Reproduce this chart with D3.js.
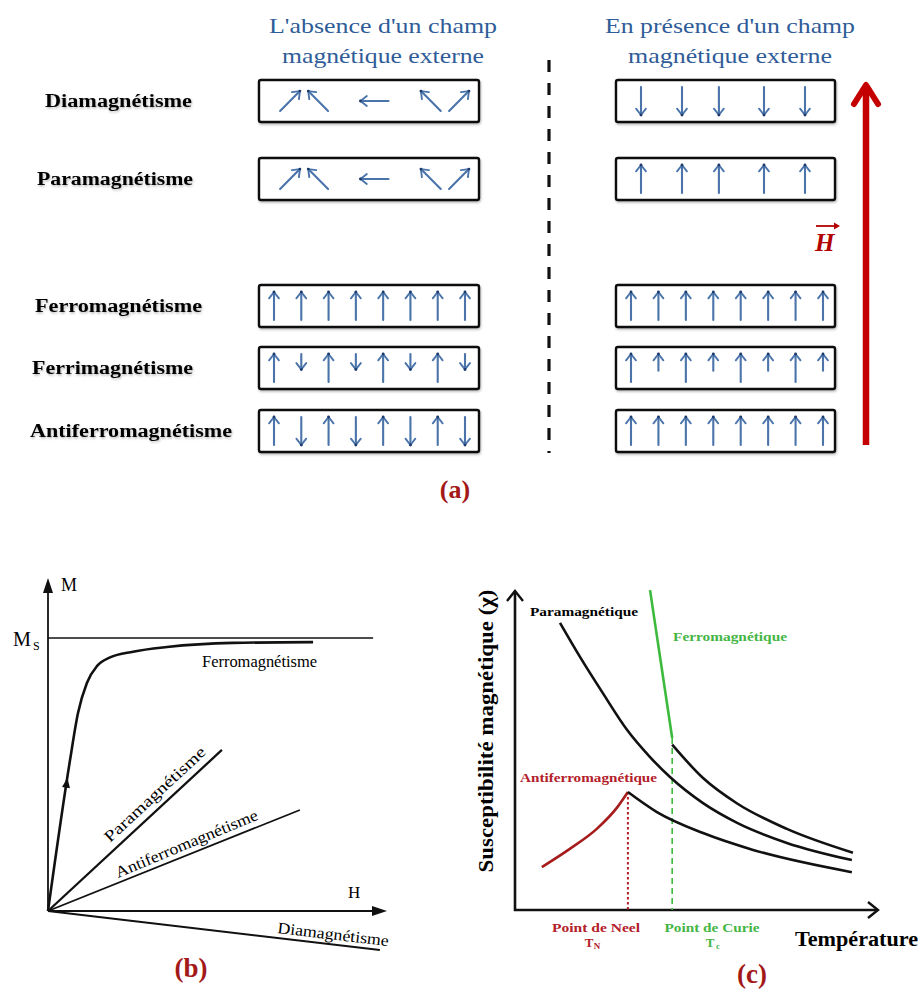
<!DOCTYPE html>
<html><head><meta charset="utf-8">
<script src="https://cdn.jsdelivr.net/npm/d3@7"></script>
<style>body{margin:0;background:#fff}svg{display:block}</style>
</head><body>
<script>
// ---------------- data ----------------
const magnetismTypes = ["Diamagnétisme", "Paramagnétisme", "Ferromagnétisme", "Ferrimagnétisme", "Antiferromagnétisme"];
const headerNoField = ["L'absence d'un champ", "magnétique externe"];
const headerField = ["En présence d'un champ", "magnétique externe"];

// spin orientation: degrees clockwise from "up"
const spinAngleNoField = [
  [45, -45, -90, -45, 45],
  [45, -45, -90, -45, 45],
  [0, 0, 0, 0, 0, 0, 0, 0],
  [0, 180, 0, 180, 0, 180, 0, 180],
  [0, 180, 0, 180, 0, 180, 0, 180]
];
const spinLengthNoField = [
  [1, 1, 1, 1, 1],
  [1, 1, 1, 1, 1],
  [1, 1, 1, 1, 1, 1, 1, 1],
  [1, 0.55, 1, 0.55, 1, 0.55, 1, 0.55],
  [1, 1, 1, 1, 1, 1, 1, 1]
];
const spinSlotNoField = [
  [0, 1, 3, 5, 6],
  [0, 1, 3, 5, 6],
  [0, 1, 2, 3, 4, 5, 6, 7],
  [0, 1, 2, 3, 4, 5, 6, 7],
  [0, 1, 2, 3, 4, 5, 6, 7]
];
const spinAngleField = [
  [180, 180, 180, 180, 180],
  [0, 0, 0, 0, 0],
  [0, 0, 0, 0, 0, 0, 0, 0],
  [0, 0, 0, 0, 0, 0, 0, 0],
  [0, 0, 0, 0, 0, 0, 0, 0]
];
const spinLengthField = [
  [1, 1, 1, 1, 1],
  [1, 1, 1, 1, 1],
  [1, 1, 1, 1, 1, 1, 1, 1],
  [1, 0.6, 1, 0.6, 1, 0.6, 1, 0.6],
  [1, 1, 1, 1, 1, 1, 1, 1]
];
const spinSlotField = [
  [0, 1, 1.9, 3, 4],
  [0, 1, 1.9, 3, 4],
  [0, 1, 2, 3, 4, 5, 6, 7],
  [0, 1, 2, 3, 4, 5, 6, 7],
  [0, 1, 2, 3, 4, 5, 6, 7]
];

// panel (b): magnetisation M versus field H (arbitrary units, M_s = 100)
const hFerro = [0, 6.5, 8.85, 11.5, 14.5, 18.3, 25.1, 35.1, 54.6, 78.2];
const mFerro = [0, 55.3, 72.5, 83.6, 89.8, 92.9, 95.0, 96.7, 98.2, 98.5];
const hPara = [0, 51.3];
const mPara = [0, 59.0];
const hAnti = [0, 74.3];
const mAnti = [0, 37.0];
const hDia = [0, 97.9];
const mDia = [0, -14.3];
const mSat = 100;
const hSatEnd = 95.9;

// panel (c): susceptibility versus temperature (arbitrary units)
const tPara = [12.4, 17.9, 24.2, 30.9, 37.2, 42.7, 51.8, 61.2, 74.9, 92.8];
const chiPara = [90.3, 79.6, 68.2, 56.6, 48.1, 41.8, 33.6, 27.4, 21.1, 15.7];
const tFerroOrdered = [37.2, 43.3];
const chiFerroOrdered = [100.6, 54.1];
const tFerroPara = [43.3, 51.8, 61.2, 74.9, 93.1];
const chiFerroPara = [52.0, 41.5, 33.5, 25.5, 18.0];
const tAntiOrdered = [7.4, 15.2, 22.6, 28.1, 31.1];
const chiAntiOrdered = [13.5, 19.3, 25.6, 32.2, 37.1];
const tAntiPara = [31.1, 39.1, 51.8, 65.6, 92.8];
const chiAntiPara = [37.1, 30.8, 24.2, 18.9, 11.9];
const tNeel = 31.1;
const tCurie = 43.3;

// ---------------- drawing ----------------
const W = 920, H = 992;
const svg = d3.select("body").append("svg").attr("width", W).attr("height", H);
const SERIF = "'Liberation Serif', 'Times New Roman', serif";
const BLUE_TXT = "#2f5c98", SPIN = "#4a74aa", RED = "#a31818", ARROW_RED = "#c40000";
const GREEN = "#3dba3d";

const defs = svg.append("defs");
const sh = defs.append("filter").attr("id", "soft").attr("x", "-10%").attr("y", "-30%").attr("width", "130%").attr("height", "180%");
sh.append("feDropShadow").attr("dx", 0.8).attr("dy", 1.5).attr("stdDeviation", 1.2)
  .attr("flood-color", "#000").attr("flood-opacity", 0.28);

function text(g, x, y, str, opts) {
  const t = g.append("text").attr("x", x).attr("y", y).text(str)
    .attr("font-family", opts.family || SERIF)
    .attr("font-size", opts.size)
    .attr("font-weight", opts.weight || "normal")
    .attr("font-style", opts.style || "normal")
    .attr("fill", opts.fill || "#000")
    .attr("text-anchor", opts.anchor || "start");
  if (opts.len) t.attr("textLength", opts.len).attr("lengthAdjust", "spacingAndGlyphs");
  if (opts.rotate !== undefined) t.attr("transform", `rotate(${opts.rotate},${x},${y})`);
  if (opts.filter) t.attr("filter", opts.filter);
  return t;
}

// ===== panel (a) =====
const pa = svg.append("g");

// column headings
[[383, headerNoField, [228, 202]], [730, headerField, [250, 204]]].forEach(([cx, lines, lens]) => {
  lines.forEach((l, i) => text(pa, cx, 33 + i * 30, l, { size: 22, fill: BLUE_TXT, anchor: "middle", len: lens[i] }));
});

// row layout
const rowY = d3.scaleOrdinal().domain(magnetismTypes).range([101, 179, 306, 368, 431]);
const labelLen = [147, 156, 167, 161, 202];
const labelX = [45, 37, 35, 32, 30];
magnetismTypes.forEach((name, i) => {
  text(pa, labelX[i], rowY(name) + 6, name, { size: 18, weight: "bold", len: labelLen[i], filter: "url(#soft)" });
});

const BOX_H = 42, FULL = 28;
function drawSpin(g, cx, cy, angle, rel) {
  const L = FULL * rel;
  const a = angle * Math.PI / 180;
  const ux = Math.sin(a), uy = -Math.cos(a);
  // short vertical spins share the top edge with the long ones
  const shift = (FULL - L) / 2;
  const cyy = cy - shift * (Math.abs(uy) > 0.9 ? 1 : 0);
  const x1 = cx - ux * L / 2, y1 = cyy - uy * L / 2;
  const x2 = cx + ux * L / 2, y2 = cyy + uy * L / 2;
  g.append("line").attr("x1", x1).attr("y1", y1).attr("x2", x2).attr("y2", y2)
    .attr("stroke", SPIN).attr("stroke-width", 2.1).attr("stroke-linecap", "round");
  const hl = 8, ha = 38 * Math.PI / 180;
  [-1, 1].forEach(s => {
    const bx = -ux, by = -uy;
    const rx = bx * Math.cos(s * ha) - by * Math.sin(s * ha);
    const ry = bx * Math.sin(s * ha) + by * Math.cos(s * ha);
    g.append("line").attr("x1", x2).attr("y1", y2).attr("x2", x2 + rx * hl).attr("y2", y2 + ry * hl)
      .attr("stroke", SPIN).attr("stroke-width", 1.9).attr("stroke-linecap", "round");
  });
  g.append("circle").attr("cx", x2).attr("cy", y2).attr("r", 1.4).attr("fill", "#1d3a6b");
}

function drawBoxes(x0, x1, angles, lengths, slots, insets) {
  magnetismTypes.forEach((name, i) => {
    const cy = rowY(name);
    const g = pa.append("g");
    g.append("rect").attr("x", x0).attr("y", cy - BOX_H / 2).attr("width", x1 - x0).attr("height", BOX_H)
      .attr("rx", 2).attr("fill", "#fff").attr("stroke", "#111").attr("stroke-width", 2.4).attr("filter", "url(#soft)");
    const inset = insets[angles[i].length === 5 ? 0 : 1];
    const sx = d3.scaleLinear().domain(d3.extent(slots[i])).range([x0 + inset[0], x1 - inset[1]]);
    angles[i].forEach((ang, k) => drawSpin(g, sx(slots[i][k]), cy, ang, lengths[i][k]));
  });
}
drawBoxes(259, 479, spinAngleNoField, spinLengthNoField, spinSlotNoField, [[31, 20], [15, 14]]);
drawBoxes(616, 835, spinAngleField, spinLengthField, spinSlotField, [[25, 30], [15, 12]]);

// separator
pa.append("line").attr("x1", 549).attr("x2", 549).attr("y1", 60).attr("y2", 453)
  .attr("stroke", "#111").attr("stroke-width", 3.2).attr("stroke-dasharray", "12,11");

// applied field arrow
pa.append("line").attr("x1", 866).attr("x2", 866).attr("y1", 445).attr("y2", 86)
  .attr("stroke", ARROW_RED).attr("stroke-width", 6.5);
pa.append("path").attr("d", "M854,104 L866,85 L878,104").attr("fill", "none")
  .attr("stroke", ARROW_RED).attr("stroke-width", 6).attr("stroke-linecap", "round").attr("stroke-linejoin", "round");
text(pa, 815, 251, "H", { size: 25, weight: "bold", style: "italic", fill: "#b20000" });
pa.append("line").attr("x1", 816).attr("x2", 838).attr("y1", 226).attr("y2", 226).attr("stroke", "#b20000").attr("stroke-width", 1.8);
pa.append("path").attr("d", "M834,222.5 L840,226 L834,229.5 Z").attr("fill", "#b20000");

text(pa, 455, 498, "(a)", { size: 26, weight: "bold", fill: RED, anchor: "middle" });

// ===== panel (b) =====
const pb = svg.append("g");
const xB = d3.scaleLinear().domain([0, 100]).range([48, 387]);
const yB = d3.scaleLinear().domain([0, 100]).range([911, 638]);
const lineB = d3.line().x(d => xB(d[0])).y(d => yB(d[1]));

// axes
pb.append("line").attr("x1", xB(0)).attr("y1", yB(0)).attr("x2", xB(0)).attr("y2", 590).attr("stroke", "#111").attr("stroke-width", 1.8);
pb.append("path").attr("d", `M${xB(0)},578 L${xB(0) - 5},593 L${xB(0) + 5},593 Z`).attr("fill", "#111");
pb.append("line").attr("x1", xB(0)).attr("y1", yB(0)).attr("x2", xB(100) - 10).attr("y2", yB(0)).attr("stroke", "#111").attr("stroke-width", 1.8);
pb.append("path").attr("d", `M${xB(100)},${yB(0)} L${xB(100) - 15},${yB(0) - 5} L${xB(100) - 15},${yB(0) + 5} Z`).attr("fill", "#111");

// saturation level
pb.append("path").attr("d", lineB([[0, mSat], [hSatEnd, mSat]])).attr("stroke", "#111").attr("stroke-width", 1.6).attr("fill", "none");

pb.append("path").datum(d3.zip(hFerro, mFerro))
  .attr("d", d3.line().x(d => xB(d[0])).y(d => yB(d[1])).curve(d3.curveMonotoneX))
  .attr("fill", "none").attr("stroke", "#111").attr("stroke-width", 2.6);
// direction marker on the ferromagnetic curve
{
  const p = [xB(hFerro[1]), yB(mFerro[1])], q = [xB(hFerro[0]), yB(mFerro[0])];
  const ang = Math.atan2(p[1] - q[1], p[0] - q[0]) * 180 / Math.PI;
  pb.append("path").attr("d", "M5,0 L-5,-4 L-5,4 Z").attr("fill", "#111")
    .attr("transform", `translate(${(p[0] * 0.85 + q[0] * 0.15)},${(p[1] * 0.85 + q[1] * 0.15) + 0})rotate(${ang})`);
}
[[hPara, mPara, 2.3], [hAnti, mAnti, 1.8], [hDia, mDia, 2.0]].forEach(([h, m, w]) => {
  pb.append("path").attr("d", lineB(d3.zip(h, m))).attr("stroke", "#111").attr("stroke-width", w).attr("fill", "none");
});

text(pb, 61, 591, "M", { size: 18 });
text(pb, 13, 646, "M", { size: 20, len: 18 });
text(pb, 33, 650, "S", { size: 12 });
text(pb, 348, 898, "H", { size: 17 });
text(pb, 202, 667, "Ferromagnétisme", { size: 16, len: 115 });

function lineAngle(h, m) {
  return Math.atan2(yB(m[1]) - yB(m[0]), xB(h[1]) - xB(h[0])) * 180 / Math.PI;
}
text(pb, 110, 843, "Paramagnétisme", { size: 16, len: 132, rotate: lineAngle(hPara, mPara) });
text(pb, 118, 878, "Antiferromagnétisme", { size: 16, len: 153, rotate: lineAngle(hAnti, mAnti) - 0.8 });
text(pb, 277, 933, "Diamagnétisme", { size: 16, len: 112, rotate: lineAngle(hDia, mDia) });

text(pb, 191, 977, "(b)", { size: 27, weight: "bold", fill: RED, anchor: "middle" });

// ===== panel (c) =====
const pc = svg.append("g");
const xC = d3.scaleLinear().domain([0, 100]).range([515, 878]);
const yC = d3.scaleLinear().domain([0, 100]).range([910, 592]);
const curveC = d3.line().x(d => xC(d[0])).y(d => yC(d[1])).curve(d3.curveMonotoneX);

pc.append("path").attr("d", `M${xC(0)},${yC(100) - 1} L${xC(0)},${yC(0)} L${xC(100)},${yC(0)}`)
  .attr("fill", "none").attr("stroke", "#111").attr("stroke-width", 2.6);
pc.append("path").attr("d", `M${xC(0) - 8},${yC(100) + 9} L${xC(0)},${yC(100) - 1} L${xC(0) + 8},${yC(100) + 9}`)
  .attr("fill", "none").attr("stroke", "#111").attr("stroke-width", 2.4);
pc.append("path").attr("d", `M${xC(100) - 10},${yC(0) - 8} L${xC(100)},${yC(0)} L${xC(100) - 10},${yC(0) + 8}`)
  .attr("fill", "none").attr("stroke", "#111").attr("stroke-width", 2.4);

// transition markers
pc.append("line").attr("x1", xC(tNeel)).attr("x2", xC(tNeel)).attr("y1", yC(chiAntiOrdered[chiAntiOrdered.length - 1])).attr("y2", yC(0))
  .attr("stroke", "#b3202a").attr("stroke-width", 2).attr("stroke-dasharray", "2.5,2.5");
pc.append("line").attr("x1", xC(tCurie)).attr("x2", xC(tCurie)).attr("y1", yC(chiFerroOrdered[1])).attr("y2", yC(0))
  .attr("stroke", GREEN).attr("stroke-width", 1.6).attr("stroke-dasharray", "6,4");

pc.append("path").datum(d3.zip(tPara, chiPara)).attr("d", curveC).attr("fill", "none").attr("stroke", "#111").attr("stroke-width", 2.6);
pc.append("path").datum(d3.zip(tFerroOrdered, chiFerroOrdered)).attr("d", curveC).attr("fill", "none").attr("stroke", GREEN).attr("stroke-width", 2.6);
pc.append("path").datum(d3.zip(tFerroPara, chiFerroPara)).attr("d", curveC).attr("fill", "none").attr("stroke", "#111").attr("stroke-width", 2.6);
pc.append("path").datum(d3.zip(tAntiOrdered, chiAntiOrdered)).attr("d", curveC).attr("fill", "none").attr("stroke", "#a61c1c").attr("stroke-width", 2.6);
pc.append("path").datum(d3.zip(tAntiPara, chiAntiPara)).attr("d", curveC).attr("fill", "none").attr("stroke", "#111").attr("stroke-width", 2.6);

text(pc, 530, 616, "Paramagnétique", { size: 13.5, weight: "bold", len: 108 });
text(pc, 673, 641, "Ferromagnétique", { size: 13.5, weight: "bold", fill: "#45b545", len: 114 });
text(pc, 520, 782, "Antiferromagnétique", { size: 13.5, weight: "bold", fill: "#b3202a", len: 137 });

text(pc, 596, 932, "Point de Neel", { size: 13, weight: "bold", fill: "#b3202a", anchor: "middle", len: 88 });
text(pc, 589, 947, "T", { size: 13, weight: "bold", fill: "#b3202a", anchor: "middle" });
text(pc, 597, 949, "N", { size: 9, weight: "bold", fill: "#b3202a", anchor: "middle" });
text(pc, 712, 932, "Point de Curie", { size: 13, weight: "bold", fill: "#45b545", anchor: "middle", len: 95 });
text(pc, 710, 947, "T", { size: 13, weight: "bold", fill: "#45b545", anchor: "middle" });
text(pc, 718, 949, "c", { size: 9, weight: "bold", fill: "#45b545", anchor: "middle" });

text(pc, 795, 946, "Température", { size: 20, weight: "bold", len: 123 });
text(pc, 493, 731, "Susceptibilité  magnétique (χ)", { size: 20, weight: "bold", anchor: "middle", len: 283, rotate: -90 });

text(pc, 752, 983, "(c)", { size: 27, weight: "bold", fill: RED, anchor: "middle" });
</script>
</body></html>
